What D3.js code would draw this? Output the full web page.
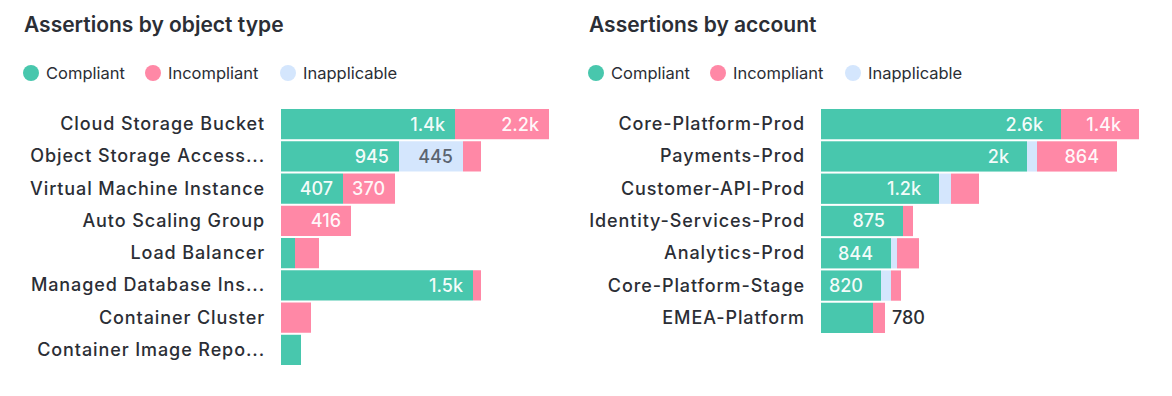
<!DOCTYPE html>
<html>
<head>
<meta charset="utf-8">
<script src="https://cdn.jsdelivr.net/npm/d3@7"></script>
<style>
  html, body { margin: 0; padding: 0; background: #ffffff; }
  svg { display: block; font-family: Inter, "Noto Sans", sans-serif; }
</style>
</head>
<body>
<svg id="chart" width="1172" height="396"></svg>
<script>
// ---- Data ----
const seriesNames = ["Compliant", "Incompliant", "Inapplicable"];
const seriesColors = ["#48c7ad", "#ff88a6", "#d4e6fd"];

const objectTypes = [
  "Cloud Storage Bucket", "Object Storage Access...", "Virtual Machine Instance",
  "Auto Scaling Group", "Load Balancer", "Managed Database Ins...",
  "Container Cluster", "Container Image Repo..."
];
const objCompliant    = [1392, 944, 496, 0, 112, 1536, 0, 160];
const objInapplicable = [0, 512, 0, 0, 0, 0, 0, 0];
const objIncompliant  = [752, 144, 416, 560, 192, 64, 240, 0];
const objCompliantLabels    = ["1.4k", "945", "407", null, null, "1.5k", null, null];
const objInapplicableLabels = [null, "445", null, null, null, null, null, null];
const objIncompliantLabels  = ["2.2k", null, "370", "416", null, null, null, null];

const accounts = [
  "Core-Platform-Prod", "Payments-Prod", "Customer-API-Prod",
  "Identity-Services-Prod", "Analytics-Prod", "Core-Platform-Stage", "EMEA-Platform"
];
const accCompliant    = [2400, 2060, 1180, 820, 700, 600, 520];
const accInapplicable = [0, 100, 120, 0, 60, 100, 0];
const accIncompliant  = [780, 800, 280, 100, 220, 100, 120];
const accCompliantLabels    = ["2.6k", "2k", "1.2k", "875", "844", "820", "780"];
const accInapplicableLabels = [null, null, null, null, null, null, null];
const accIncompliantLabels  = ["1.4k", "864", null, null, null, null, null];

// ---- Drawing ----
const svg = d3.select("#chart");

function panel(cfg) {
  const g = svg.append("g").attr("transform", `translate(${cfg.x},0)`);

  g.append("text")
    .attr("x", 0).attr("y", 32)
    .attr("font-size", 21).attr("font-weight", 600)
    .attr("fill", "#2b2e35")
    .text(cfg.title);

  // legend
  const legendX = [7, 129, 264];
  const lg = g.selectAll("g.legend").data(seriesNames).join("g")
    .attr("transform", (d, i) => `translate(${legendX[i]},73)`);
  lg.append("circle").attr("r", 8).attr("fill", (d, i) => seriesColors[i]);
  lg.append("text").attr("x", 15).attr("dy", "0.35em")
    .attr("font-size", 16.5).attr("fill", "#2b2e35").text(d => d);

  const y = d3.scaleBand().domain(cfg.categories)
    .range([109, 109 + 32 * cfg.categories.length]).paddingInner(2 / 32).paddingOuter(0);
  const x = d3.scaleLinear().domain([0, cfg.max]).range([cfg.barX, cfg.barX + cfg.max / cfg.unit]);

  const rows = cfg.categories.map((c, i) => ({
    cat: c,
    segs: [
      { v: cfg.comp[i], label: cfg.compL[i], color: seriesColors[0], dark: false },
      { v: cfg.inap[i], label: cfg.inapL[i], color: seriesColors[2], dark: true },
      { v: cfg.inc[i], label: cfg.incL[i], color: seriesColors[1], dark: false }
    ]
  }));
  rows.forEach(r => {
    let acc = 0;
    r.segs.forEach(s => { s.x0 = acc; acc += s.v; s.x1 = acc; });
    r.total = acc;
  });

  // category labels
  g.append("g").selectAll("text").data(rows).join("text")
    .attr("x", cfg.barX - 16)
    .attr("y", d => y(d.cat) + y.bandwidth() / 2)
    .attr("dy", "0.33em").attr("text-anchor", "end")
    .attr("font-size", 18).attr("font-weight", 500).attr("fill", "#2b2e35")
    .attr("letter-spacing", "0.9px")
    .text(d => d.cat);

  const rowG = g.append("g").selectAll("g").data(rows).join("g");
  rowG.selectAll("rect").data(d => d.segs.filter(s => s.v > 0)).join("rect")
    .attr("x", s => x(s.x0))
    .attr("width", s => x(s.x1) - x(s.x0))
    .attr("y", function () { return y(d3.select(this.parentNode).datum().cat); })
    .attr("height", y.bandwidth())
    .attr("fill", s => s.color);

  rowG.each(function (r) {
    const rg = d3.select(this);
    const cy = y(r.cat) + y.bandwidth() / 2;
    r.segs.forEach(s => {
      if (!s.label) return;
      const w = x(s.x1) - x(s.x0);
      if (w >= cfg.insideMin) {
        rg.append("text")
          .attr("x", x(s.x1) - cfg.pad).attr("y", cy).attr("dy", "0.36em")
          .attr("text-anchor", "end").attr("font-size", 18).attr("font-weight", 500)
          .attr("fill", s.dark ? "#5b6470" : "#ffffff").attr("fill-opacity", s.dark ? 1 : 0.95)
          .text(s.label);
      } else {
        rg.append("text")
          .attr("x", x(r.total) + 7).attr("y", cy).attr("dy", "0.36em")
          .attr("text-anchor", "start").attr("font-size", 18).attr("font-weight", 500)
          .attr("fill", "#2b2e35")
          .text(s.label);
      }
    });
  });
}

panel({
  x: 24, title: "Assertions by object type", categories: objectTypes,
  comp: objCompliant, inap: objInapplicable, inc: objIncompliant,
  compL: objCompliantLabels, inapL: objInapplicableLabels, incL: objIncompliantLabels,
  barX: 257, max: 2400, unit: 8, pad: 10, insideMin: 50
});
panel({
  x: 589, title: "Assertions by account", categories: accounts,
  comp: accCompliant, inap: accInapplicable, inc: accIncompliant,
  compL: accCompliantLabels, inapL: accInapplicableLabels, incL: accIncompliantLabels,
  barX: 232, max: 3300, unit: 10, pad: 18, insideMin: 56
});
</script>
</body>
</html>
